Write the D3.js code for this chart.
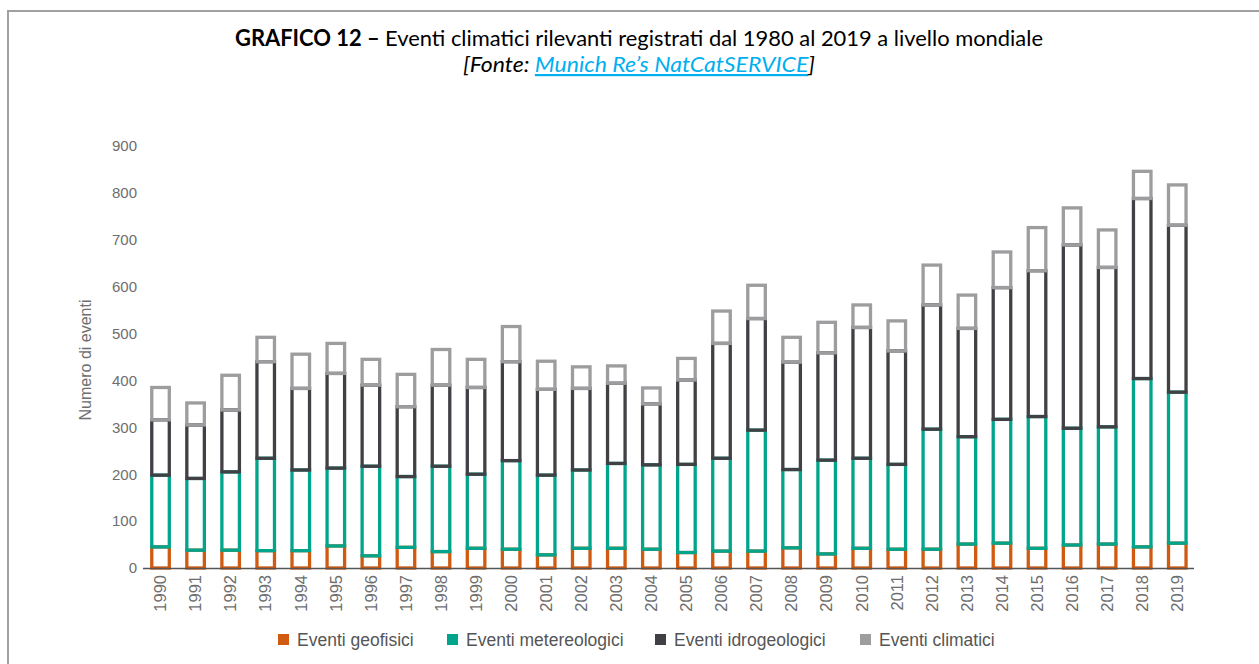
<!DOCTYPE html>
<html>
<head>
<meta charset="utf-8">
<script src="https://cdn.jsdelivr.net/npm/d3@7"></script>
<style>
  body { margin: 0; background: #fff; }
  svg { display: block; }
  .tick-label { font-family: "Liberation Sans", Arial, sans-serif; fill: #6e6e6e; }
  .legend-label { font-family: "Liberation Sans", Arial, sans-serif; font-size: 17.5px; fill: #555; }
</style>
</head>
<body>
<div id="chart"></div>
<script>
const years = ["1990", "1991", "1992", "1993", "1994", "1995", "1996", "1997", "1998", "1999",
    "2000", "2001", "2002", "2003", "2004", "2005", "2006", "2007", "2008", "2009",
    "2010", "2011", "2012", "2013", "2014", "2015", "2016", "2017", "2018", "2019"];

const geofisici = [45, 38, 38, 37, 37, 47, 26, 44, 35, 42, 40, 28, 42, 42, 40, 33, 36, 36, 43, 30,
    42, 40, 40, 51, 53, 42, 49, 51, 45, 53];
const metereologici = [153, 153, 167, 197, 172, 166, 191, 151, 182, 158, 189, 170, 167, 181, 180, 188, 198, 258, 167, 200,
    192, 181, 256, 229, 264, 281, 249, 250, 359, 322];
const idrogeologici = [118, 114, 132, 206, 174, 202, 173, 149, 173, 185, 211, 183, 174, 171, 130, 180, 245, 238, 229, 229,
    279, 242, 265, 231, 281, 311, 391, 340, 384, 356];
const climatici = [69, 47, 74, 52, 73, 64, 55, 69, 76, 60, 75, 60, 46, 37, 34, 46, 69, 71, 53, 65,
    48, 64, 85, 71, 76, 92, 79, 80, 58, 86];

const seriesNames = ["Eventi geofisici", "Eventi metereologici", "Eventi idrogeologici", "Eventi climatici"];
const seriesColors = ["#d05a10", "#00a58b", "#414145", "#9d9d9f"];
const yTicks = [0, 100, 200, 300, 400, 500, 600, 700, 800, 900];

const width = 1259, height = 664;

const svg = d3.select("#chart")
    .append("svg")
    .attr("width", width)
    .attr("height", height);

// frame of the document box
svg.append("path")
    .attr("d", `M8,${height} L8,11 L${width},11`)
    .attr("fill", "none")
    .attr("stroke", "#a0a0a0")
    .attr("stroke-width", 2);

// title
const title = svg.append("text")
    .attr("x", 639)
    .attr("y", 46)
    .attr("text-anchor", "middle")
    .attr("textLength", 808)
    .attr("lengthAdjust", "spacingAndGlyphs")
    .style("font-family", "Lato, 'Open Sans', sans-serif")
    .style("font-size", "22px")
    .style("fill", "#000");
title.append("tspan").style("font-weight", "bold").text("GRAFICO 12 \u2013 ");
title.append("tspan").text("Eventi climatici rilevanti registrati dal 1980 al 2019 a livello mondiale");

const sub = svg.append("text")
    .attr("x", 639)
    .attr("y", 72)
    .attr("text-anchor", "middle")
    .attr("textLength", 352)
    .attr("lengthAdjust", "spacingAndGlyphs")
    .style("font-family", "Lato, 'Open Sans', sans-serif")
    .style("font-size", "22px")
    .style("font-style", "italic")
    .style("fill", "#000");
sub.append("tspan").text("[Fonte: ");
sub.append("tspan").style("fill", "#00aff0").style("text-decoration", "underline").text("Munich Re\u2019s NatCatSERVICE");
sub.append("tspan").text("]");

// scales
const x = d3.scaleBand()
    .domain(years)
    .range([143, 1194.8])
    .paddingInner(0.5)
    .paddingOuter(0.25);

const y = d3.scaleLinear()
    .domain([0, 900])
    .range([568, 146]);

// stacked data
const rows = years.map((yr, i) => ({
    year: yr,
    s0: geofisici[i],
    s1: metereologici[i],
    s2: idrogeologici[i],
    s3: climatici[i]
}));
const stack = d3.stack().keys(["s0", "s1", "s2", "s3"])(rows);

// y axis labels
const yAxis = svg.append("g")
    .attr("transform", "translate(143,0)")
    .call(d3.axisLeft(y).tickValues(yTicks).tickSize(0).tickPadding(6));
yAxis.select(".domain").remove();
yAxis.selectAll("text")
    .attr("class", "tick-label")
    .style("font-size", "15px")
    .attr("fill", null);

svg.append("text")
    .attr("class", "tick-label")
    .attr("transform", "translate(91,360) rotate(-90)")
    .attr("text-anchor", "middle")
    .style("font-size", "16px")
    .text("Numero di eventi");

// bars (hollow outlined segments)
stack.forEach((layer, k) => {
    svg.append("g")
        .selectAll("rect")
        .data(layer)
        .enter()
        .append("rect")
        .attr("x", d => x(d.data.year))
        .attr("y", d => y(d[1]))
        .attr("width", x.bandwidth())
        .attr("height", d => y(d[0]) - y(d[1]))
        .attr("fill", "none")
        .attr("stroke", seriesColors[k])
        .attr("stroke-width", 3.3);
});

// x axis baseline
svg.append("line")
    .attr("x1", 143)
    .attr("x2", 1194)
    .attr("y1", 568.5)
    .attr("y2", 568.5)
    .attr("stroke", "#555")
    .attr("stroke-width", 1.3);

// x labels
svg.append("g")
    .selectAll("text")
    .data(years)
    .enter()
    .append("text")
    .attr("class", "tick-label")
    .attr("transform", d => `translate(${x(d) + x.bandwidth() / 2},575) rotate(-90)`)
    .attr("text-anchor", "end")
    .attr("dy", "0.35em")
    .style("font-size", "16.5px")
    .text(d => d);

// legend
const legendX = [278, 447, 655, 860];
const legend = svg.append("g");
seriesNames.forEach((name, i) => {
    legend.append("rect")
        .attr("x", legendX[i])
        .attr("y", 634)
        .attr("width", 11)
        .attr("height", 11)
        .attr("fill", seriesColors[i]);
    legend.append("text")
        .attr("class", "legend-label")
        .attr("x", legendX[i] + 19)
        .attr("y", 646)
        .text(name);
});
</script>
</body>
</html>
